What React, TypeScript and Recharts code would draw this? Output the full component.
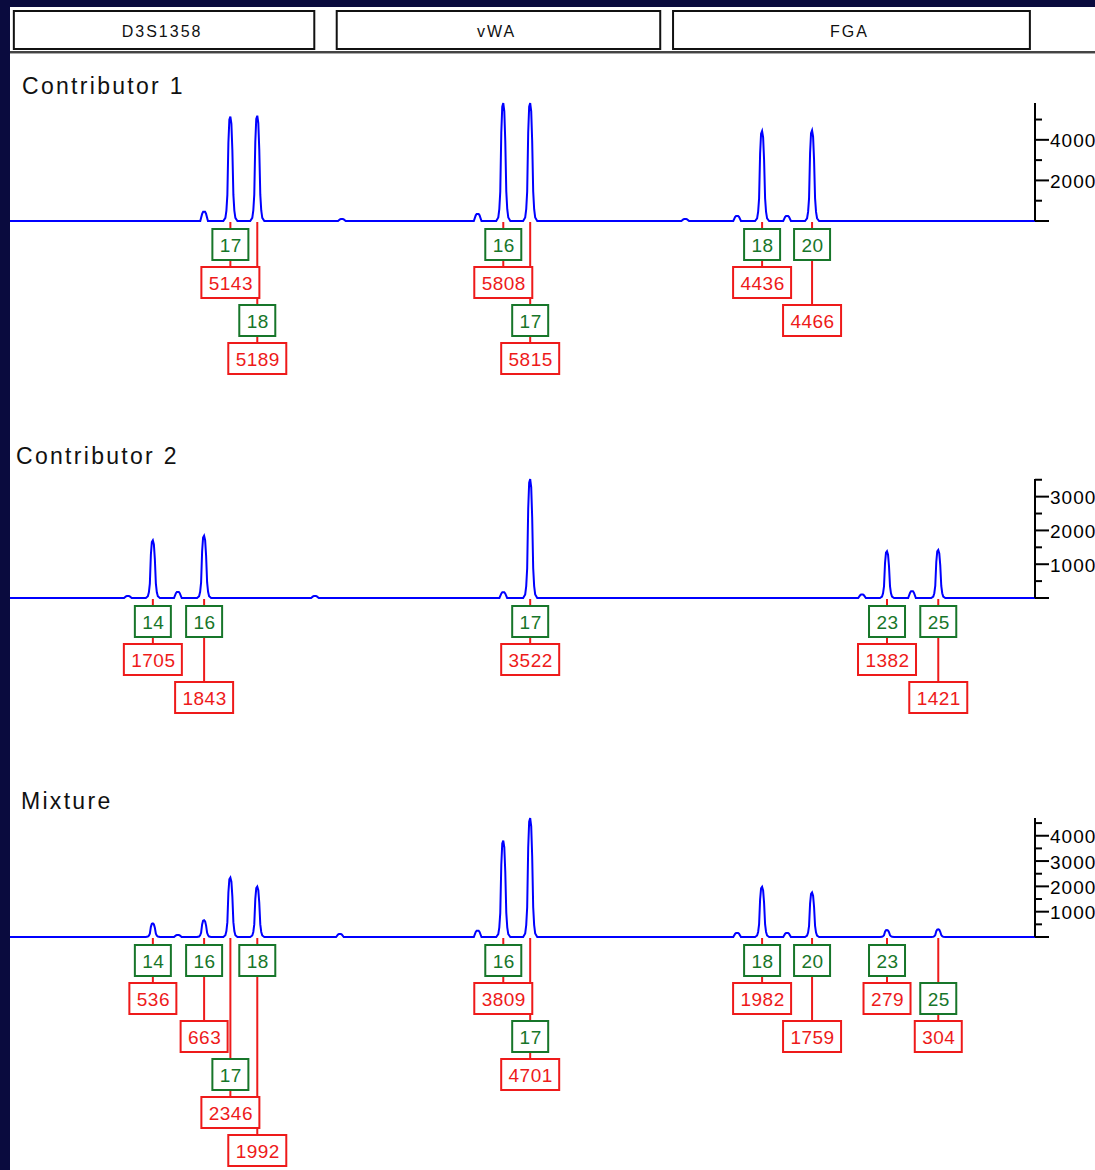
import React from 'react';
import { LineChart, Line, XAxis, YAxis, ReferenceDot, ReferenceArea } from 'recharts';

// Fragment size axis (bp) shared by all panels
const SIZE_DOMAIN: [number, number] = [95, 255];

// Loci bins shown as header boxes
const LOCI = ['D3S1358', 'vWA', 'FGA'];
const LOCUS_FROM = [95.6, 146.0, 198.5];
const LOCUS_TO = [142.5, 196.5, 254.2];

// Contributor 1
const C1_ALLELES = ['17', '18', '16', '17', '18', '20'];
const C1_SIZES = [129.4, 133.6, 172.0, 176.2, 212.4, 220.2];
const C1_HEIGHTS = [5143, 5189, 5808, 5815, 4436, 4466];
const C1_MINOR_SIZES = [125.3, 146.8, 168.0, 200.4, 208.5, 216.3];
const C1_MINOR_HEIGHTS = [450, 100, 350, 100, 250, 250];
const C1_TICKS = [0, 1000, 2000, 3000, 4000, 5000];
const C1_TICK_LABELS = [2000, 4000];

// Contributor 2
const C2_ALLELES = ['14', '16', '17', '23', '25'];
const C2_SIZES = [117.3, 125.3, 176.2, 231.9, 239.9];
const C2_HEIGHTS = [1705, 1843, 3522, 1382, 1421];
const C2_MINOR_SIZES = [113.4, 121.2, 142.6, 172.0, 228.0, 235.8];
const C2_MINOR_HEIGHTS = [60, 180, 60, 170, 100, 200];
const C2_TICKS = [0, 500, 1000, 1500, 2000, 2500, 3000, 3500];
const C2_TICK_LABELS = [1000, 2000, 3000];

// Mixture
const MX_ALLELES = ['14', '16', '17', '18', '16', '17', '18', '20', '23', '25'];
const MX_SIZES = [117.3, 125.3, 129.4, 133.6, 172.0, 176.2, 212.4, 220.2, 231.9, 239.9];
const MX_HEIGHTS = [536, 663, 2346, 1992, 3809, 4701, 1982, 1759, 279, 304];
const MX_MINOR_SIZES = [121.2, 146.5, 168.0, 208.5, 216.3];
const MX_MINOR_HEIGHTS = [80, 120, 250, 160, 160];
const MX_TICKS = [0, 500, 1000, 1500, 2000, 2500, 3000, 3500, 4000, 4500];
const MX_TICK_LABELS = [1000, 2000, 3000, 4000];

// Peak profile (offset in bp, fraction of peak height)
const PEAK_OFFSETS = [-1.1, -0.78, -0.62, -0.47, -0.31, -0.16, 0, 0.16, 0.31, 0.47, 0.62, 0.78, 1.1];
const PEAK_SHAPE = [0, 0.03, 0.1, 0.25, 0.75, 0.97, 1, 0.93, 0.68, 0.25, 0.1, 0.03, 0];
const BUMP_OFFSETS = [-0.6, -0.3, -0.15, 0.15, 0.3, 0.6];
const BUMP_SHAPE = [0, 0.8, 1, 1, 0.8, 0];

// Label stacking rows: [allele box row, height box row]
const C1_ROWS = [[0, 1], [2, 3], [0, 1], [2, 3], [0, 1], [0, 2]];
const C2_ROWS = [[0, 1], [0, 2], [0, 1], [0, 1], [0, 2]];
const MX_ROWS = [[0, 1], [0, 2], [3, 4], [0, 5], [0, 1], [2, 3], [0, 1], [0, 2], [0, 1], [1, 2]];

const BLUE = '#0000ff';
const GREEN = '#17762a';
const RED = '#ee1a1a';
const FONT = '"Liberation Sans", Arial, sans-serif';
const ROW_STEP = 38;
const BOX_H = 31;
const FIRST_GAP = 8;

type Pt = { bp: number; rfu: number };

function buildTrace(sizes: number[], heights: number[], minorSizes: number[], minorHeights: number[]): Pt[] {
  const pts: Pt[] = [
    { bp: SIZE_DOMAIN[0], rfu: 0 },
    { bp: SIZE_DOMAIN[1], rfu: 0 },
  ];
  sizes.forEach((s, i) => {
    PEAK_OFFSETS.forEach((o, k) => pts.push({ bp: s + o, rfu: heights[i] * PEAK_SHAPE[k] }));
  });
  minorSizes.forEach((s, i) => {
    BUMP_OFFSETS.forEach((o, k) => pts.push({ bp: s + o, rfu: minorHeights[i] * BUMP_SHAPE[k] }));
  });
  return pts.sort((a, b) => a.bp - b.bp);
}

function boxWidth(text: string) {
  return text.length * 11 + 14;
}

function LabelBox({ cx, top, text, color }: { cx: number; top: number; text: string; color: string }) {
  const w = boxWidth(text);
  return (
    <g>
      <rect x={cx - w / 2} y={top} width={w} height={BOX_H} fill="#fff" stroke={color} strokeWidth={2} />
      <text
        x={cx + 0.5}
        y={top + BOX_H / 2 + 1}
        textAnchor="middle"
        dominantBaseline="central"
        fontSize={19}
        fontFamily={FONT}
        letterSpacing={0.5}
        fill={color}
      >
        {text}
      </text>
    </g>
  );
}

function renderTick(props: any, labels: number[]) {
  const { x, y, payload } = props;
  const v = payload.value as number;
  const labeled = labels.includes(v);
  const len = v === 0 || labeled ? 14 : 7;
  return (
    <g>
      <line x1={x} y1={y} x2={x + len} y2={y} stroke="#000" strokeWidth={2} />
      {labeled && (
        <text x={x + 15} y={y + 1} dominantBaseline="central" fontSize={19} fontFamily={FONT} letterSpacing={1} fill="#000">
          {v}
        </text>
      )}
    </g>
  );
}

type PanelProps = {
  top: number;
  height: number;
  marginTop: number;
  plotHeight: number;
  title: string;
  titleLeft: number;
  titleTop: number;
  alleles: string[];
  sizes: number[];
  heights: number[];
  minorSizes: number[];
  minorHeights: number[];
  rows: number[][];
  ticks: number[];
  tickLabels: number[];
};

function Panel(p: PanelProps) {
  const trace = buildTrace(p.sizes, p.heights, p.minorSizes, p.minorHeights);
  const yMax = Math.max(...p.heights);
  const marginBottom = p.height - p.marginTop - p.plotHeight;
  return (
    <>
      <div
        style={{
          position: 'absolute',
          left: p.titleLeft,
          top: p.titleTop,
          fontFamily: FONT,
          fontSize: 23,
          lineHeight: '23px',
          letterSpacing: 2.3,
          color: '#111',
          whiteSpace: 'nowrap',
        }}
      >
        {p.title}
      </div>
      <div style={{ position: 'absolute', left: 0, top: p.top, width: 1095, height: p.height }}>
        <LineChart
          width={1095}
          height={p.height}
          data={trace}
          margin={{ top: p.marginTop, right: 0, bottom: marginBottom, left: 10 }}
        >
          <XAxis type="number" dataKey="bp" domain={SIZE_DOMAIN} allowDataOverflow hide />
          <YAxis
            orientation="right"
            width={60}
            domain={[0, yMax]}
            ticks={p.ticks}
            interval={0}
            tickSize={0}
            tickMargin={0}
            tickLine={false}
            axisLine={{ stroke: '#000', strokeWidth: 2 }}
            tick={(tp: any) => renderTick(tp, p.tickLabels)}
          />
          <Line
            dataKey="rfu"
            type="linear"
            stroke={BLUE}
            strokeWidth={2}
            dot={false}
            activeDot={false}
            isAnimationActive={false}
          />
          {p.sizes.map((s, i) => (
            <ReferenceDot
              key={'lead' + i}
              x={s}
              y={0}
              ifOverflow="visible"
              shape={(dp: any) => {
                const gTop = dp.cy + FIRST_GAP + p.rows[i][0] * ROW_STEP;
                const rTop = dp.cy + FIRST_GAP + p.rows[i][1] * ROW_STEP;
                return (
                  <g>
                    <line x1={dp.cx} y1={dp.cy + 1} x2={dp.cx} y2={gTop} stroke={RED} strokeWidth={2} />
                    <line x1={dp.cx} y1={gTop + BOX_H} x2={dp.cx} y2={rTop} stroke={RED} strokeWidth={2} />
                  </g>
                );
              }}
            />
          ))}
          {p.sizes.map((s, i) => (
            <ReferenceDot
              key={'box' + i}
              x={s}
              y={0}
              ifOverflow="visible"
              shape={(dp: any) => (
                <g>
                  <LabelBox
                    cx={dp.cx}
                    top={dp.cy + FIRST_GAP + p.rows[i][0] * ROW_STEP}
                    text={p.alleles[i]}
                    color={GREEN}
                  />
                  <LabelBox
                    cx={dp.cx}
                    top={dp.cy + FIRST_GAP + p.rows[i][1] * ROW_STEP}
                    text={String(p.heights[i])}
                    color={RED}
                  />
                </g>
              )}
            />
          ))}
        </LineChart>
      </div>
    </>
  );
}

function Header() {
  const bins = LOCI.map((name, i) => ({ bp: (LOCUS_FROM[i] + LOCUS_TO[i]) / 2, v: 0.5, name }));
  return (
    <div style={{ position: 'absolute', left: 0, top: 0, width: 1095, height: 56 }}>
      <LineChart width={1095} height={56} data={bins} margin={{ top: 11, right: 60, bottom: 7, left: 10 }}>
        <XAxis type="number" dataKey="bp" domain={SIZE_DOMAIN} allowDataOverflow hide />
        <YAxis type="number" domain={[0, 1]} allowDataOverflow hide />
        {LOCI.map((name, i) => (
          <ReferenceArea
            key={name}
            x1={LOCUS_FROM[i]}
            x2={LOCUS_TO[i]}
            y1={0}
            y2={1}
            ifOverflow="visible"
            fill="#fff"
            fillOpacity={1}
            stroke="#111"
            strokeWidth={2}
            label={(lp: any) => {
              const vb = lp.viewBox;
              return (
                <text
                  x={vb.x + vb.width / 2 - 2}
                  y={vb.y + vb.height / 2 + 1}
                  textAnchor="middle"
                  dominantBaseline="central"
                  fontSize={16}
                  fontFamily={FONT}
                  letterSpacing={2}
                  fill="#111"
                >
                  {name}
                </text>
              );
            }}
          />
        ))}
      </LineChart>
    </div>
  );
}

export default function App() {
  return (
    <div
      style={{
        position: 'absolute',
        left: 0,
        top: 0,
        width: 1095,
        height: 1170,
        background: '#0a0b3e',
        overflow: 'hidden',
      }}
    >
      <div style={{ position: 'absolute', left: 10, top: 7, width: 1085, height: 1163, background: '#fff' }} />
      <Header />
      <div style={{ position: 'absolute', left: 10, top: 51, width: 1085, height: 2, background: '#444' }} />
      <div style={{ position: 'absolute', left: 10, top: 53, width: 1085, height: 1, background: '#aaa' }} />
      <Panel
        top={60}
        height={340}
        marginTop={43}
        plotHeight={118}
        title="Contributor 1"
        titleLeft={22}
        titleTop={75}
        alleles={C1_ALLELES}
        sizes={C1_SIZES}
        heights={C1_HEIGHTS}
        minorSizes={C1_MINOR_SIZES}
        minorHeights={C1_MINOR_HEIGHTS}
        rows={C1_ROWS}
        ticks={C1_TICKS}
        tickLabels={C1_TICK_LABELS}
      />
      <Panel
        top={410}
        height={330}
        marginTop={69}
        plotHeight={119}
        title="Contributor 2"
        titleLeft={16}
        titleTop={445}
        alleles={C2_ALLELES}
        sizes={C2_SIZES}
        heights={C2_HEIGHTS}
        minorSizes={C2_MINOR_SIZES}
        minorHeights={C2_MINOR_HEIGHTS}
        rows={C2_ROWS}
        ticks={C2_TICKS}
        tickLabels={C2_TICK_LABELS}
      />
      <Panel
        top={760}
        height={410}
        marginTop={58}
        plotHeight={119}
        title="Mixture"
        titleLeft={21}
        titleTop={790}
        alleles={MX_ALLELES}
        sizes={MX_SIZES}
        heights={MX_HEIGHTS}
        minorSizes={MX_MINOR_SIZES}
        minorHeights={MX_MINOR_HEIGHTS}
        rows={MX_ROWS}
        ticks={MX_TICKS}
        tickLabels={MX_TICK_LABELS}
      />
    </div>
  );
}
